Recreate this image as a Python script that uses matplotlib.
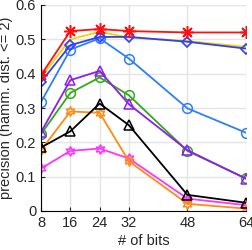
import numpy as np
from matplotlib import pyplot as plt

plt.rcParams['font.family'] = ['Liberation Sans', 'DejaVu Sans']

bits = [8, 16, 24, 32, 48, 64]

red = [0.396, 0.524, 0.530, 0.524, 0.520, 0.520]
yellow = [0.390, 0.500, 0.522, 0.505, 0.495, 0.478]
blue_dia = [0.376, 0.483, 0.507, 0.507, 0.493, 0.473]
blue_circ = [0.318, 0.470, 0.503, 0.444, 0.299, 0.228]
purple = [0.230, 0.381, 0.408, 0.311, 0.177, 0.094]
green = [0.224, 0.344, 0.389, 0.337, 0.175, 0.095]
black = [0.185, 0.232, 0.313, 0.250, 0.047, 0.024]
orange = [0.177, 0.290, 0.286, 0.145, 0.021, 0.007]
magenta = [0.124, 0.175, 0.182, 0.153, 0.036, 0.017]

hexagram = (6, 1, 0)

series = [
    (magenta, '#ff33ff', hexagram),
    (orange, '#ff8c10', hexagram),
    (black, 'k', '^'),
    (green, '#33a81a', 'o'),
    (purple, '#8c1ef0', '^'),
    (blue_circ, '#2f7ff5', 'o'),
    (yellow, '#f5d200', None),
    (blue_dia, '#3040f0', 'D'),
    (red, '#ff1010', '*'),
]

fig = plt.figure(figsize=(2.52, 2.5), dpi=100)
ax = fig.add_axes([0.163, 0.156, 0.813, 0.824])

for vals, col, mk in series:
    if mk == 'D':
        ax.plot(bits, vals, color=col, lw=1.3, marker=mk, ms=5.5,
                mfc='none', mew=1.2)
    elif mk == '*':
        ax.plot(bits, vals, color=col, lw=1.3, marker=(8, 2, 0), ms=9,
                mfc='none', mew=1.1)
    elif mk is None:
        ax.plot(bits, vals, color=col, lw=1.3)
    else:
        ax.plot(bits, vals, color=col, lw=1.3, marker=mk, ms=7,
                mfc='none', mew=1.1)

ax.set_xlim(8, 64)
ax.set_ylim(0, 0.6)
ax.set_xticks(bits)
ax.set_yticks([0, 0.1, 0.2, 0.3, 0.4, 0.5, 0.6])
ax.set_yticklabels(['0', '0.1', '0.2', '0.3', '0.4', '0.5', '0.6'])
ax.grid(True, color='#e4e4e4', lw=1)
ax.set_axisbelow(True)
for s in ['top', 'right']:
    ax.spines[s].set_visible(False)
ax.tick_params(labelsize=10.5, colors='#262626', length=3, direction='in')
ax.set_xlabel('# of bits', fontsize=10.5, color='#262626', labelpad=3)
ax.set_ylabel('precision (hamm. dist. <= 2)', fontsize=10.5, color='#262626', labelpad=2)

fig.savefig('out.png', dpi=100)
